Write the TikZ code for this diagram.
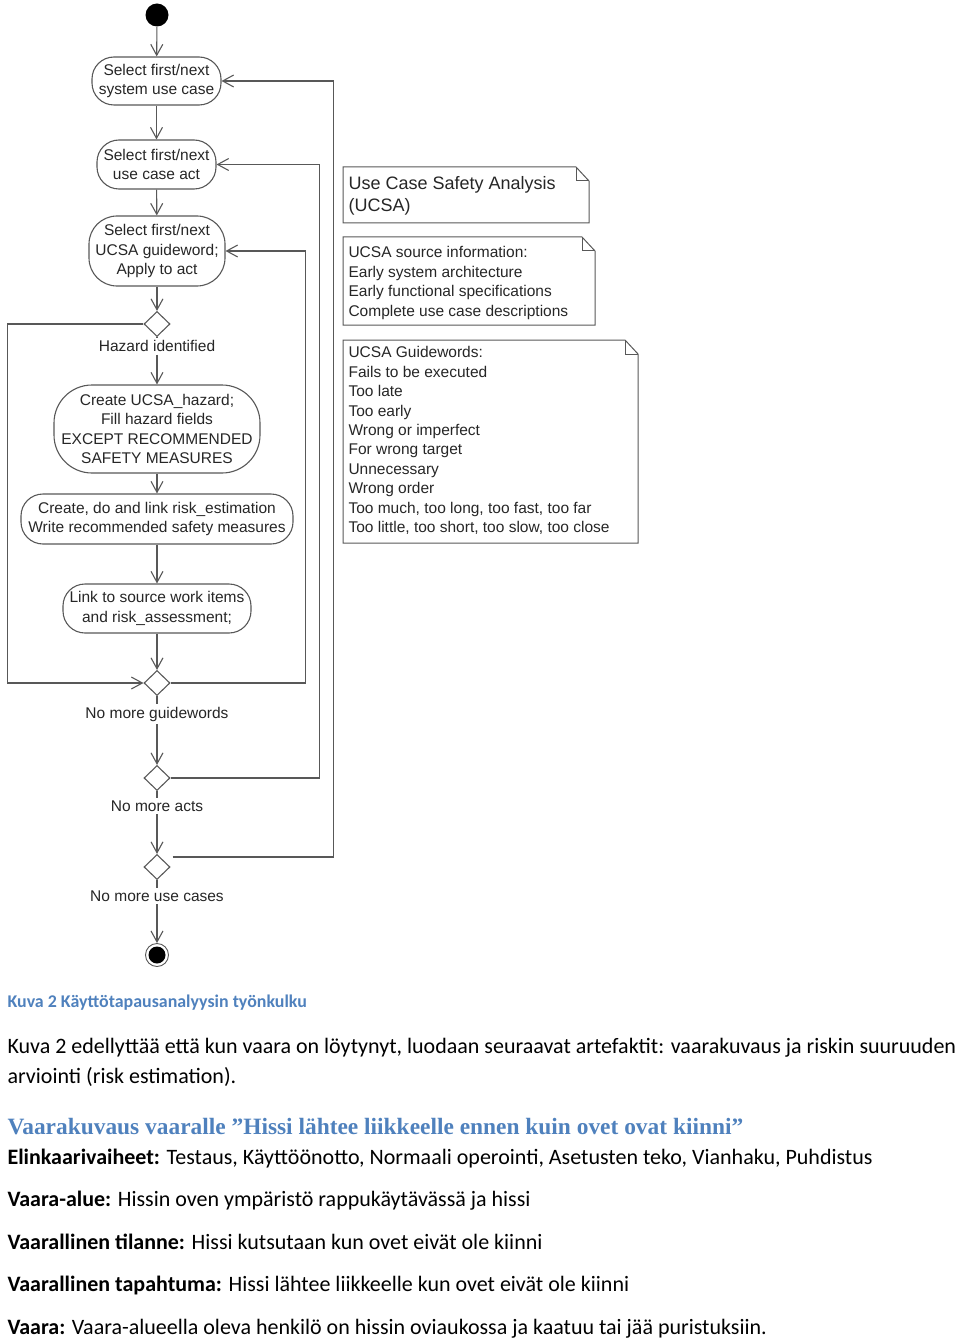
\documentclass[tikz,border=0pt]{standalone}
\usepackage{fontspec}
\setmainfont{Liberation Sans}
\newfontfamily\bodyfont{Carlito}
\newfontfamily\headfont{Liberation Serif}
\usetikzlibrary{arrows.meta,calc,shapes.geometric}

\definecolor{linegray}{RGB}{88,88,88}
\definecolor{textgray}{RGB}{38,38,38}
\definecolor{capblue}{RGB}{79,129,189}
\newcommand{\diagfont}{\fontsize{15.5}{19.5}\selectfont}
\newcommand{\notefont}{\fontsize{15.5}{19.44}\selectfont}

\begin{document}
\begin{tikzpicture}[x=1pt,y=-1pt,line width=1.1pt,
  >={Straight Barb[length=11pt,width=12pt]},
  act/.style={draw=linegray,rounded corners=#1,align=center,inner sep=0pt,
    font=\diagfont,text=textgray},
  act/.default=22pt,
  decision/.style={draw=linegray,diamond,minimum width=26pt,minimum height=25pt,inner sep=0pt},
  guard/.style={inner xsep=0.5pt,inner ysep=2.5pt,font=\diagfont,text=textgray},
  flow/.style={draw=linegray,->},
  notetext/.style={anchor=north west,inner sep=0pt,align=left,text=textgray},
  para/.style={anchor=base west,inner sep=0pt,font=\bodyfont\fontsize{22}{26}\selectfont}]
\useasboundingbox (0,0) rectangle (960,1340);
% ================= activity flow =================
\node[circle,fill=black,minimum size=23pt,inner sep=0pt] (start) at (157,15) {};
\node[act,minimum width=129pt,minimum height=48pt] (usecase) at (156.5,81)
  {Select first/next\\system use case};
\node[act,minimum width=119pt,minimum height=49pt] (act) at (156.5,164.5)
  {Select first/next\\use case act};
\node[act=28pt,minimum width=136pt,minimum height=70pt] (guideword) at (157,251)
  {Select first/next\\UCSA guideword;\\Apply to act};
\node[decision] (hazq) at (157,324) {};
\node[act=38pt,minimum width=206pt,minimum height=88pt] (hazard) at (157,429)
  {Create UCSA\_hazard;\\Fill hazard fields\\EXCEPT RECOMMENDED\\SAFETY MEASURES};
\node[act,minimum width=272pt,minimum height=50pt] (estim) at (157,519)
  {Create, do and link risk\_estimation\\Write recommended safety measures};
\node[act,minimum width=188pt,minimum height=49pt] (link) at (157,608.5)
  {Link to source work items\\and risk\_assessment;};
\node[decision] (gwq) at (157,683) {};
\node[decision] (actq) at (157,778) {};
\node[decision] (ucq) at (157,867) {};
\node[circle,draw=linegray,line width=0.9pt,minimum size=23pt,inner sep=0pt] (stop) at (157,955) {};
\fill[black] (stop.center) circle (8.5pt);
% ---------- guards ----------
\node[guard] (hazlbl) at (157,346) {Hazard identified};
\node[guard] (gwlbl) at (157,714) {No more guidewords};
\node[guard] (actlbl) at (157,806) {No more acts};
\node[guard] (uclbl) at (157,896) {No more use cases};
% ---------- straight flow ----------
\draw[flow] (start) -- (usecase);
\draw[flow] (usecase) -- (act);
\draw[flow] (act) -- (guideword);
\draw[flow] (guideword) -- (hazq);
\draw[linegray] (hazq) -- (hazlbl);
\draw[flow] (hazlbl) -- (hazard);
\draw[flow] (hazard) -- (estim);
\draw[flow] (estim) -- (link);
\draw[flow] (link) -- (gwq);
\draw[linegray] (gwq) -- (gwlbl);
\draw[flow] (gwlbl) -- (actq);
\draw[linegray] (actq) -- (actlbl);
\draw[flow] (actlbl) -- (ucq);
\draw[linegray] (ucq) -- (uclbl);
\draw[flow] (uclbl) -- (stop);
% ---------- loops back ----------
\draw[flow] (hazq.west) -- ++(-136,0) |- (gwq.west);
\draw[flow] (gwq.east) -- ++(135,0) |- (guideword.east);
\draw[flow] (actq.east) -- ++(149,0) |- (act.east);
\coordinate (ucout) at ($(ucq.east)+(2,-10)$);
\draw[flow] (ucout) -- ++(161,0) |- (usecase.east);
% ================= notes =================
\foreach \l/\t/\r/\b in {343/167/589/223,343/237/595/325,343/340/638/543}{
  \draw[linegray,line width=1pt] (\l,\t) -- (\r-13,\t) -- (\r,\t+14) -- (\r,\b) -- (\l,\b) -- cycle;
  \draw[linegray,line width=1pt] (\r-13,\t) -- (\r-13,\t+14) -- (\r,\t+14);}
\node[notetext,font=\fontsize{18}{22}\selectfont] (ucsa) at (348,176)
  {Use Case Safety Analysis\\(UCSA)};
\node[notetext,font=\notefont] (source) at (348,246)
  {UCSA source information:\\Early system architecture\\Early functional specifications\\Complete use case descriptions};
\node[notetext,font=\notefont] (guidewords) at (348,346)
  {UCSA Guidewords:\\Fails to be executed\\Too late\\Too early\\Wrong or imperfect\\For wrong target\\Unnecessary\\Wrong order\\Too much, too long, too fast, too far\\Too little, too short, too slow, too close};
% ================= text below =================
\node[anchor=base west,inner sep=0pt,text=capblue,font=\bodyfont\bfseries\fontsize{17.9}{20}\selectfont] (caption) at (7,1007)
  {Kuva 2 Käyttötapausanalyysin työnkulku};
\node[para] (intro1) at (7,1053)
  {Kuva 2 edellyttää että kun vaara on löytynyt, luodaan seuraavat artefaktit: vaarakuvaus ja riskin suuruuden};
\node[para] (intro2) at (7,1083) {arviointi (risk estimation).};
\node[anchor=base west,inner sep=0pt,text=capblue,font=\headfont\bfseries\fontsize{23.4}{28}\selectfont] (heading) at (7,1134)
  {Vaarakuvaus vaaralle ”Hissi lähtee liikkeelle ennen kuin ovet ovat kiinni”};
\node[para] (phases) at (7,1164)
  {\textbf{Elinkaarivaiheet:} Testaus, Käyttöönotto, Normaali operointi, Asetusten teko, Vianhaku, Puhdistus};
\node[para] (area) at (7,1206)
  {\textbf{Vaara-alue:} Hissin oven ympäristö rappukäytävässä ja hissi};
\node[para] (situation) at (7,1249)
  {\textbf{Vaarallinen tilanne:} Hissi kutsutaan kun ovet eivät ole kiinni};
\node[para] (event) at (7,1291)
  {\textbf{Vaarallinen tapahtuma:} Hissi lähtee liikkeelle kun ovet eivät ole kiinni};
\node[para] (danger) at (7,1334)
  {\textbf{Vaara:} Vaara-alueella oleva henkilö on hissin oviaukossa ja kaatuu tai jää puristuksiin.};
\end{tikzpicture}
\end{document}
